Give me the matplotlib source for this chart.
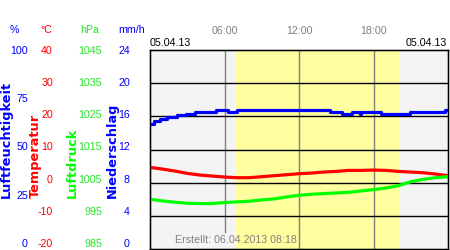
#!/usr/bin/env python3
# coding: utf-8

import matplotlib
matplotlib.use("Agg")
import matplotlib.pyplot as plt

plt.rcParams["font.family"] = ["Liberation Sans", "DejaVu Sans"]
plt.rcParams["axes.unicode_minus"] = False

# --- data ---
hours = list(range(25))
temp = [4.6, 4.1, 3.5, 2.8, 2.3, 2.0, 1.7, 1.5, 1.5, 1.8, 2.1, 2.4, 2.7,
        2.9, 3.2, 3.4, 3.7, 3.7, 3.8, 3.7, 3.4, 3.2, 3.0, 2.6, 2.1]
press = [1000.0, 999.5, 999.1, 998.8, 998.7, 998.7, 999.0, 999.2, 999.4,
         999.8, 1000.1, 1000.7, 1001.2, 1001.5, 1001.7, 1001.9, 1002.1,
         1002.5, 1002.9, 1003.4, 1004.1, 1005.3, 1006.0, 1006.5, 1006.8]
hum_t = [0, 0.3, 0.8, 1.4, 2.2, 2.9, 3.6, 5.3, 6.3, 7.0, 14.5, 15.5,
         16.3, 16.9, 17.0, 18.6, 20.9, 23.75, 24]
hum_v = [63, 64.5, 65.5, 66.5, 67.3, 68, 69, 70, 69, 70, 69, 68,
         69, 68, 69, 68, 69, 70, 70]

time_ticks = [6, 12, 18]
time_labels = ["06:00", "12:00", "18:00"]
daylight = (6.9, 20.05)
date_label = "05.04.13"
created = "Erstellt: 06.04.2013 08:18"

hum_ticks = [0, 25, 50, 75, 100]
temp_ticks = [-20, -10, 0, 10, 20, 30, 40]
press_ticks = [985, 995, 1005, 1015, 1025, 1035, 1045]
rain_ticks = [0, 4, 8, 12, 16, 20, 24]

BLUE = "#0000ff"
RED = "#ff0000"
GREEN = "#00ff00"
GREEN_TXT = "#22e622"
GRAY = "#808080"

W, H = 450, 250
fig = plt.figure(figsize=(4.5, 2.5), dpi=100)

# plot area: x 150..448, y 50..249 (pixels)
rect = [150 / W, 1 - 249 / H, 298 / W, 199 / H]
ax = fig.add_axes(rect)
ax.set_facecolor("#f4f4f4")
ax.set_xlim(0, 24)
ax.set_ylim(-20, 40)
ax.axvspan(*daylight, color="#ffffa0", lw=0, zorder=0)
ax.set_yticks([-10, 0, 10, 20, 30])
ax.yaxis.grid(True, color="black", lw=1)
ax.tick_params(axis="y", length=0, labelleft=False)
ax.set_xticks(time_ticks)
ax.set_xticklabels(time_labels)
ax.xaxis.tick_top()
ax.tick_params(axis="x", length=0, pad=10, labelsize=7.7, labelcolor=GRAY)
for h in time_ticks:
    ax.axvline(h, color=GRAY, lw=1, ymin=0.087 if h == 6 else 0, zorder=1)
for s in ax.spines.values():
    s.set_linewidth(1)
ax.plot(hours, temp, color=RED, lw=2.3, zorder=3)

ax_p = ax.twinx()
ax_p.set_ylim(985, 1045)
ax_p.plot(hours, press, color=GREEN, lw=2.3)
ax_p.set_yticks([])

ax_h = ax.twinx()
ax_h.set_ylim(0, 100)
ax_h.plot(hum_t, hum_v, color=BLUE, lw=2.3, drawstyle="steps-post")
ax_h.set_yticks([])

# tick label columns on the left (labels span y 50..243)
lab_rect = [150 / W, 1 - 243 / H, 298 / W, 193 / H]


def scale(name, ticks, color, offset_px):
    sax = fig.add_axes(lab_rect, label=name)
    sax.patch.set_visible(False)
    for s in sax.spines.values():
        s.set_visible(False)
    sax.spines["left"].set_position(("outward", offset_px * 0.72))
    sax.set_xticks([])
    sax.set_ylim(ticks[0], ticks[-1])
    sax.set_yticks(ticks)
    sax.tick_params(axis="y", length=0, pad=0, labelsize=7.7, labelcolor=color)


scale("hum", hum_ticks, BLUE, 122)
scale("temp", temp_ticks, RED, 97)
scale("press", press_ticks, GREEN_TXT, 48)
scale("rain", rain_ticks, BLUE, 20)

# unit headers
for x, txt, c in [(14, "%", BLUE), (46, "°C", RED), (90, "hPa", GREEN_TXT), (132, "mm/h", BLUE)]:
    fig.text(x / W, 1 - 30 / H, txt, color=c, fontsize=7.7, ha="center", va="center")

# rotated axis titles
for x, txt, c in [(6, "Luftfeuchtigkeit", BLUE), (35.5, "Temperatur", RED),
                  (72, "Luftdruck", GREEN), (112, "Niederschlag", BLUE)]:
    fig.text(x / W, 1 - 198 / H, txt, color=c, fontsize=9.3, fontweight="bold",
             family="DejaVu Sans", rotation=90, ha="center", va="bottom")

fig.text(150 / W, 1 - 43.3 / H, date_label, fontsize=7.7, ha="left", va="center")
fig.text(447 / W, 1 - 43.3 / H, date_label, fontsize=7.7, ha="right", va="center")
fig.text(175 / W, 1 - 240 / H, created, fontsize=7.7, color=GRAY, ha="left", va="center")

fig.savefig("out.png", dpi=100, facecolor="white")
